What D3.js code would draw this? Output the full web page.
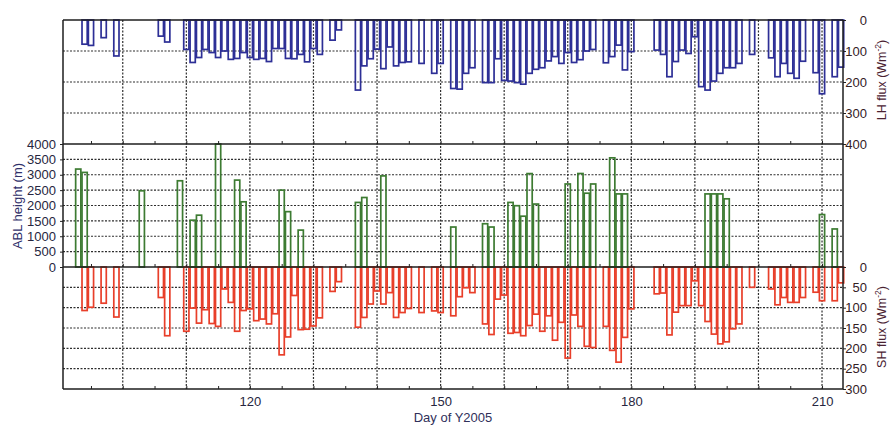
<!DOCTYPE html>
<html><head><meta charset="utf-8">
<script src="https://cdn.jsdelivr.net/npm/d3@7"></script>
<style>
html,body{margin:0;padding:0;background:#fff;}
svg{display:block;font-family:"Liberation Sans",Arial,Helvetica,sans-serif;}
</style></head><body>
<svg id="chart" width="890" height="425"></svg>
<script>
// ---- Data (day of year 2005) ----
const lhDays   = [94,95,97,99,106,107,110,111,112,113,114,115,116,117,118,119,120,121,122,123,124,125,126,127,128,129,130,131,133,134,137,138,139,140,141,142,143,144,145,147,149,150,152,153,154,155,157,158,159,160,161,162,163,164,165,166,167,168,169,170,171,172,173,174,176,177,178,179,180,184,185,186,187,188,189,190,191,192,193,194,195,196,197,199,202,203,204,205,206,207,209,210,212,213];
const lhValues = [78,82,57,116,52,71,95,137,121,95,105,121,100,127,124,105,121,127,124,134,92,92,124,125,111,135,92,111,65,32,226,148,125,94,157,87,148,137,135,140,172,140,221,223,172,154,202,202,125,195,197,202,207,172,159,154,132,118,140,105,137,128,100,95,138,118,81,161,102,97,111,183,134,97,108,54,215,226,197,172,154,154,140,111,122,183,140,172,188,133,170,238,183,152];

const shDays   = [94,95,97,99,106,107,110,111,112,113,114,115,116,117,118,119,120,121,122,123,124,125,126,127,128,129,130,131,133,134,137,138,139,140,141,142,143,144,145,147,149,150,152,153,154,155,157,158,159,160,161,162,163,164,165,166,167,168,169,170,171,172,173,174,176,177,178,179,180,184,185,186,187,188,189,190,191,192,193,194,195,196,197,199,202,203,204,205,206,207,209,210,212,213];
const shValues = [107,99,89,123,75,169,158,101,138,105,139,146,54,87,158,107,103,132,128,140,115,216,172,70,154,153,145,125,60,36,148,124,91,59,91,63,124,112,102,112,108,112,120,73,51,63,140,166,79,69,163,161,169,144,116,158,120,180,136,224,118,146,195,198,146,205,234,173,103,66,64,167,111,95,95,34,95,134,165,189,184,152,140,50,54,93,75,87,87,75,62,83,83,39];

const ablDays   = [93,94,103,109,111,112,115,118,119,125,126,128,137,138,141,152,157,158,161,162,163,164,165,170,172,173,174,177,178,179,192,193,194,195,210,212];
const ablValues = [3185,3076,2478,2804,1522,1685,4000,2826,2120,2500,1800,1200,2100,2260,2963,1300,1407,1300,2100,1993,1652,3038,2047,2700,3040,2400,2700,3550,2377,2377,2377,2377,2377,2217,1705,1237];

const xTickLabels = [120,150,180,210];
const ablTicks = [0,500,1000,1500,2000,2500,3000,3500,4000];
const lhTicks  = [0,100,200,300,400];
const shTicks  = [0,50,100,150,200,250,300];

// ---- Layout ----
const L = 63, R = 843, T = 20, MID = 144, ZERO = 267, B = 389;
const svg = d3.select("#chart");
const x = d3.scaleLinear().domain([90.6, 213.3]).range([L, R]);
const yLH  = d3.scaleLinear().domain([0, 400]).range([T, MID]);
const yABL = d3.scaleLinear().domain([0, 4000]).range([ZERO, MID]);
const ySH  = d3.scaleLinear().domain([0, 300]).range([ZERO, B]);

const gridColor = "#2e2e2e";
const grid = svg.append("g").attr("stroke", gridColor).attr("stroke-width", 1.2).attr("stroke-dasharray", "2,1.5");
grid.selectAll("line.v").data(d3.range(100, 211, 10)).join("line")
  .attr("x1", d => x(d)).attr("x2", d => x(d)).attr("y1", T).attr("y2", B);
const hY = [].concat(
  [100,200,300].map(v => yLH(v)),
  [500,1000,1500,2000,2500,3000,3500].map(v => yABL(v)),
  [50,100,150,200,250].map(v => ySH(v))
);
grid.selectAll("line.h").data(hY).join("line")
  .attr("x1", L).attr("x2", R).attr("y1", d => d).attr("y2", d => d);

// ---- Bars ----
const bw = 5.2;
const bars = svg.append("g").attr("fill", "none").attr("stroke-width", 1.7);
bars.append("g").attr("stroke", "#2d2f96").selectAll("rect").data(lhDays).join("rect")
  .attr("x", (d) => x(d) - bw/2).attr("width", bw)
  .attr("y", yLH(0)).attr("height", (d, i) => yLH(lhValues[i]) - yLH(0));
bars.append("g").attr("stroke", "#e83f2a").selectAll("rect").data(shDays).join("rect")
  .attr("x", (d) => x(d) - bw/2).attr("width", bw)
  .attr("y", ySH(0)).attr("height", (d, i) => ySH(shValues[i]) - ySH(0));
bars.append("g").attr("stroke", "#3d7b32").selectAll("rect").data(ablDays).join("rect")
  .attr("x", (d) => x(d) - bw/2).attr("width", bw)
  .attr("y", (d, i) => yABL(ablValues[i])).attr("height", (d, i) => yABL(0) - yABL(ablValues[i]));

// ---- Frame ----
const frame = svg.append("g").attr("stroke", "#1e1e1e").attr("stroke-width", 1.5);
[T, MID, ZERO, B].forEach(y => frame.append("line").attr("x1", L).attr("x2", R).attr("y1", y).attr("y2", y));
[L, R].forEach(xx => frame.append("line").attr("x1", xx).attr("x2", xx).attr("y1", T).attr("y2", B));

[MID, ZERO, B].forEach(y => {
  const g = svg.append("g").attr("transform", `translate(0,${y})`)
    .call(d3.axisBottom(x).tickValues(d3.range(95, 211, 5)).tickSize(-3).tickFormat(""));
  g.select(".domain").remove();
  g.selectAll("line").attr("stroke", "#222");
});

const fontSize = 13;
const xb = svg.append("g").attr("transform", `translate(0,${B})`)
  .call(d3.axisBottom(x).tickValues(xTickLabels).tickSize(0).tickPadding(8).tickFormat(d3.format("d")));
xb.select(".domain").remove();
xb.selectAll("text").attr("font-size", fontSize).attr("fill", "#262640").attr("font-family", null);

const la = svg.append("g").attr("transform", `translate(${L},0)`)
  .call(d3.axisLeft(yABL).tickValues(ablTicks).tickSize(3).tickPadding(4).tickFormat(d3.format("d")));
la.select(".domain").remove();
la.selectAll("line").attr("stroke", "#222");
la.selectAll("text").attr("font-size", fontSize).attr("fill", "#262640").attr("font-family", null);

function rightAxis(scale, ticks) {
  const g = svg.append("g").attr("transform", `translate(${R},0)`)
    .call(d3.axisRight(scale).tickValues(ticks).tickSize(3).tickFormat(d3.format("d")));
  g.select(".domain").remove();
  g.selectAll("line").attr("stroke", "#222");
  g.selectAll("text").attr("font-size", fontSize).attr("fill", "#33201f")
    .attr("text-anchor", "end").attr("x", 24).attr("font-family", null);
}
rightAxis(yLH, lhTicks);
rightAxis(ySH, shTicks);

// ---- Titles ----
svg.append("text").attr("x", 453).attr("y", 422).attr("text-anchor", "middle")
  .attr("font-size", fontSize).attr("fill", "#30305a").text("Day of Y2005");

svg.append("text").attr("transform", "translate(22,206) rotate(-90)").attr("text-anchor", "middle")
  .attr("font-size", fontSize).attr("fill", "#30306a").text("ABL height (m)");

function fluxTitle(label, cy) {
  const t = svg.append("text").attr("transform", `translate(886,${cy}) rotate(-90)`).attr("text-anchor", "middle")
    .attr("font-size", 12.5).attr("fill", "#4a2232");
  t.append("tspan").text(label + " (Wm");
  t.append("tspan").attr("font-size", 8.5).attr("dy", -5).text("-2");
  t.append("tspan").attr("dy", 5).text(")");
}
fluxTitle("LH flux", 80);
fluxTitle("SH flux", 327);
</script>
</body></html>
